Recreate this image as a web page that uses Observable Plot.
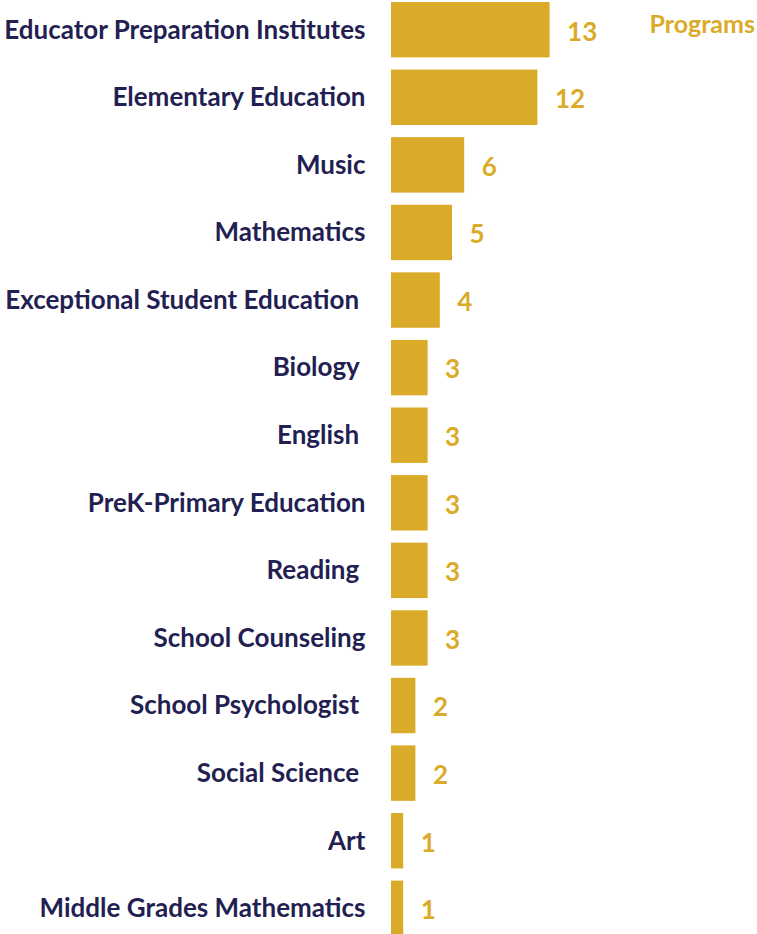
<!DOCTYPE html>
<html>
<head>
<meta charset="utf-8">
<script src="https://cdn.jsdelivr.net/npm/d3@7"></script>
<script src="https://cdn.jsdelivr.net/npm/@observablehq/plot@0.6"></script>
<style>
  html, body { margin: 0; padding: 0; background: #fff; overflow: hidden; }
  #chart svg text { white-space: pre; }
</style>
</head>
<body>
<div id="chart"></div>
<script>
const categories = [
  "Educator Preparation Institutes",
  "Elementary Education",
  "Music",
  "Mathematics",
  "Exceptional Student Education ",
  "Biology ",
  "English ",
  "PreK-Primary Education",
  "Reading ",
  "School Counseling",
  "School Psychologist ",
  "Social Science ",
  "Art",
  "Middle Grades Mathematics"
];
const programs = [13, 12, 6, 5, 4, 3, 3, 3, 3, 3, 2, 2, 1, 1];
const seriesName = "Programs";

const data = categories.map((c, i) => ({category: c, value: programs[i]}));

const gold = "#DAAB28";
const navy = "#231F52";

const chart = Plot.plot({
  width: 757,
  height: 934,
  marginLeft: 391,
  marginRight: 0,
  marginTop: 2,
  marginBottom: -2,
  style: {fontFamily: "Lato, 'Open Sans', sans-serif", background: "#fff", overflow: "visible"},
  x: {domain: [0, 30], axis: null},
  y: {domain: categories, padding: 0.18, paddingOuter: 0, round: false, label: null},
  marks: [
    Plot.barX(data, {x: "value", y: "category", fill: gold}),
    Plot.text(data, {
      x: "value", y: "category", text: d => String(d.value),
      textAnchor: "start", dx: 17, dy: 2,
      fill: gold, fontSize: 26, fontWeight: "bold"
    }),
    Plot.axisY({
      tickSize: 0, tickPadding: 26, fontSize: 26, fontWeight: "bold",
      color: navy, label: null
    }),
    Plot.text([seriesName], {
      frameAnchor: "top-right", textAnchor: "start", dx: -108, dy: 13,
      fill: gold, fontSize: 25, fontWeight: "bold"
    })
  ]
});
chart.querySelectorAll("text").forEach(t => t.setAttribute("xml:space", "preserve"));
document.getElementById("chart").appendChild(chart);
</script>
</body>
</html>
